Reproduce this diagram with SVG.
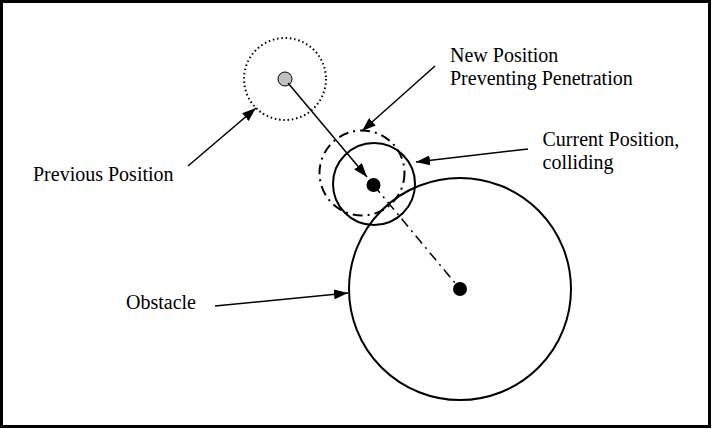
<svg xmlns="http://www.w3.org/2000/svg" width="712" height="429" viewBox="0 0 712 429">
<defs>
<marker id="ah" viewBox="0 0 14 10" refX="14" refY="5" markerWidth="14" markerHeight="10" markerUnits="userSpaceOnUse" orient="auto">
<path d="M0,0 L14,5 L0,10 Z" fill="#000"/>
</marker>
</defs>
<style>
.lbl{font-family:"Liberation Serif","Times New Roman",serif;font-size:20px;fill:#000}
.ln{stroke:#000;stroke-width:1.5;fill:none}
</style>
<rect x="1.5" y="1.5" width="708" height="425" fill="#fff" stroke="#000" stroke-width="3"/>
<g id="obstacle">
<circle cx="460" cy="289" r="111" fill="none" stroke="#000" stroke-width="2"/>
<circle cx="460" cy="289" r="7" fill="#000"/>
</g>
<g id="previous">
<circle cx="285" cy="79" r="41" fill="none" stroke="#000" stroke-width="2" stroke-dasharray="1.5 2.8"/>
<circle cx="285" cy="79" r="7" fill="#c0c0c0" stroke="#000" stroke-width="1"/>
</g>
<g id="newpos">
<circle cx="362" cy="173" r="42.5" fill="none" stroke="#000" stroke-width="2" stroke-dasharray="10 5 2 5"/>
</g>
<g id="current">
<circle cx="374" cy="184" r="41" fill="none" stroke="#000" stroke-width="2"/>
<circle cx="373.5" cy="185" r="7" fill="#000"/>
</g>
<g id="connectors">
<line class="ln" x1="373.5" y1="185" x2="460" y2="289" stroke-dasharray="10 5 2 5"/>
<line class="ln" x1="288" y1="83" x2="367" y2="177" marker-end="url(#ah)"/>
<line class="ln" x1="188" y1="166" x2="256" y2="108" marker-end="url(#ah)"/>
<line class="ln" x1="435" y1="66" x2="362" y2="131" marker-end="url(#ah)"/>
<line class="ln" x1="528" y1="149" x2="416" y2="162" marker-end="url(#ah)"/>
<line class="ln" x1="215" y1="306" x2="348" y2="293" marker-end="url(#ah)"/>
</g>
<g id="labels">
<text class="lbl" x="450" y="62">New Position</text>
<text class="lbl" x="450" y="85">Preventing Penetration</text>
<text class="lbl" x="542.5" y="146">Current Position,</text>
<text class="lbl" x="542.5" y="168.5">colliding</text>
<text class="lbl" x="33" y="181">Previous Position</text>
<text class="lbl" x="126" y="309">Obstacle</text>
</g>
</svg>
